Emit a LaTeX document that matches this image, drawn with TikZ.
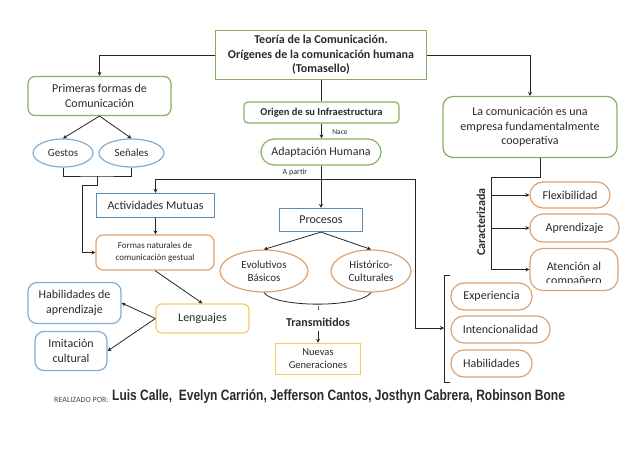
\documentclass[tikz,border=0pt]{standalone}
\usepackage{fontspec}
\setmainfont{Carlito}
\newfontfamily\namefont[FakeStretch=0.8]{Liberation Sans}
\usetikzlibrary{arrows.meta,shapes.geometric}
\definecolor{cgreen}{HTML}{86B062}
\definecolor{cblue}{HTML}{5A8CB8}
\definecolor{clblue}{HTML}{7FAED6}
\definecolor{corange}{HTML}{DDA272}
\definecolor{cyellow}{HTML}{F5CC60}
\definecolor{ctext}{HTML}{2A2A2A}
\tikzset{
  base/.style={draw,line width=1.2pt,align=center,text=ctext,inner sep=0pt,font=\fontsize{12}{14.5}\selectfont},
  gbox/.style={base,draw=cgreen},
  grnd/.style={base,draw=cgreen,rounded corners=7pt},
  bbox/.style={base,draw=cblue},
  blrnd/.style={base,draw=clblue,rounded corners=9pt},
  ornd/.style={base,draw=corange,rounded corners=7pt},
  opill/.style={base,draw=corange,rounded corners=13pt},
  oell/.style={base,draw=corange,ellipse},
  bell/.style={base,draw=clblue,ellipse},
  yelbox/.style={base,draw=cyellow},
  yrnd/.style={base,draw=cyellow,rounded corners=6pt},
  conn/.style={draw=black!85,line width=0.8pt},
  arr/.style={conn,-{Stealth[length=4pt,width=4pt]}},
  lbl/.style={text=ctext,inner sep=0pt,align=center},
}
\begin{document}
\begin{tikzpicture}[x=1pt,y=-1pt]
\useasboundingbox (0,0) rectangle (638,452);
% nodes
\node[gbox,minimum width=211pt,minimum height=49pt,font=\fontsize{12}{14.5}\selectfont\bfseries] (top) at (321,55) {Teoría de la Comunicación.\\Orígenes de la comunicación humana\\(Tomasello)};
\node[grnd,minimum width=143pt,minimum height=39pt] (prim) at (99.5,96) {Primeras formas de\\Comunicación};
\node[bell,minimum width=60pt,minimum height=28pt,font=\fontsize{11}{13}\selectfont] (gestos) at (63,153) {Gestos};
\node[bell,minimum width=65pt,minimum height=28pt,font=\fontsize{11}{13}\selectfont] (senales) at (131.5,153) {Señales};
\node[grnd,rounded corners=4pt,minimum width=155pt,minimum height=21pt,font=\fontsize{10.5}{14.5}\selectfont\bfseries] (orig) at (321.5,112.5) {Origen de su Infraestructura};
\node[grnd,rounded corners=13pt,minimum width=120pt,minimum height=26pt] (adap) at (321,152) {Adaptación Humana};
\node[grnd,rounded corners=10pt,minimum width=174pt,minimum height=61pt] (coop) at (530,127) {La comunicación es una\\empresa fundamentalmente\\cooperativa};
\node[bbox,minimum width=118pt,minimum height=24pt] (activ) at (155.5,205.5) {Actividades Mutuas};
\node[ornd,minimum width=118pt,minimum height=35pt,font=\fontsize{9}{12}\selectfont] (formas) at (155,252.5) {Formas naturales de\\comunicación gestual};
\node[bbox,minimum width=83pt,minimum height=23pt] (proc) at (321,220) {Procesos};
\node[oell,minimum width=88pt,minimum height=42pt,font=\fontsize{11}{13}\selectfont] (evol) at (264,271) {Evolutivos\\Básicos};
\node[oell,minimum width=80pt,minimum height=42pt,font=\fontsize{11}{13}\selectfont] (hist) at (371,271) {Histórico-\\Culturales};
\node[yrnd,minimum width=93pt,minimum height=29pt] (leng) at (202.5,318.5) {Lenguajes};
\node[blrnd,minimum width=93pt,minimum height=41pt] (habap) at (74.5,303) {Habilidades de\\aprendizaje};
\node[blrnd,minimum width=72pt,minimum height=39pt] (imit) at (71,351) {Imitación\\cultural};
\node[yelbox,minimum width=85pt,minimum height=31pt,font=\fontsize{10.5}{13}\selectfont] (nuevas) at (318,359) {Nuevas\\Generaciones};
\node[opill,minimum width=80pt,minimum height=26pt] (flex) at (570,195) {Flexibilidad};
\node[opill,minimum width=89pt,minimum height=28pt] (apren) at (574.5,228) {Aprendizaje};
\node[opill,minimum width=88pt,minimum height=42pt] (aten) at (574,269.5) {};
\begin{scope}
\clip (530,248) rectangle (618,282.6);
\node[lbl,font=\fontsize{12}{14.5}\selectfont] (atentxt) at (574,274.5) {Atención al\\compañero};
\end{scope}
\node[opill,minimum width=81pt,minimum height=27pt] (exper) at (491.5,296.5) {Experiencia};
\node[opill,minimum width=99pt,minimum height=27pt] (inten) at (500.5,329.5) {Intencionalidad};
\node[opill,minimum width=81pt,minimum height=27pt] (habil) at (491.5,363.5) {Habilidades};
% labels
\node[lbl,font=\fontsize{7.5}{9}\selectfont] (nace) at (340,132.5) {Nace};
\node[lbl,font=\fontsize{8}{9}\selectfont] (apartir) at (295,172) {A partir};
\node[lbl,font=\fontsize{12}{14}\selectfont\bfseries] (transm) at (318,322) {Transmitidos};
\node[lbl,rotate=90,font=\fontsize{12}{14}\selectfont\bfseries] (carac) at (481,222) {Caracterizada};
\node[lbl,anchor=west,font=\fontsize{8}{9}\selectfont,text=black!70] (realiz) at (54,399.5) {REALIZADO POR:};
\node[lbl,anchor=west,font=\fontsize{15}{17}\namefont\bfseries,text=ctext] (nombres) at (112,396.5) {Luis Calle,\ \ Evelyn Carrión,\ Jefferson Cantos,\ Josthyn Cabrera,\ Robinson Bone};
% junction coordinates
\coordinate (mj) at (97,176);
\coordinate (mjb) at (97,185);
\coordinate (fl) at (82,185);
\coordinate (hl) at (415.5,179.5);
\coordinate (caracr) at (491,177);
\coordinate (caract) at (540,177);
\coordinate (brk) at (444,328);
\coordinate (tick) at (318,306);
\coordinate (tickb) at (318,310);
\coordinate (transt) at (318,331);
% connectors
\draw[arr] (top.west) -| (prim.north);
\draw[arr] (top.east) -| (coop.north);
\draw[conn] (top.south -| orig.north) -- (orig.north);
\draw[arr] (orig.south) -- (orig.south |- adap.north);
\draw[arr] (adap.south) -- (proc.north);
\draw[arr] (prim.south) -- (gestos.north);
\draw[arr] (prim.south) -- (senales.north);
\draw[conn] (gestos.south) |- (mj) -| (senales.south);
\draw[arr] (mj) -- (mjb) -| (fl) |- (formas.west);
\draw[arr] (activ.south) -- (activ.south |- formas.north);
\draw[arr] (hl) -- (activ.north |- hl) -- (activ.north);
\draw[arr] (hl) |- (brk);
\draw[arr] (formas.south) -- (leng.north);
\draw[arr] (leng.west) -- (habap.east);
\draw[arr] (leng.west) -- (imit.east);
\draw[arr] (proc.south) -- (evol.north);
\draw[arr] (proc.south) -- (hist.north);
\draw[conn] (evol.south) .. controls (275,308) and (360,308) .. (hist.south);
\draw[conn,draw=black!60,line width=0.5pt] (tick) -- (tickb);
\draw[arr] (transt) -- (nuevas.north);
\draw[conn] (coop.south -| caract) -- (caract) -- (caracr);
\draw[arr] (caracr) |- (aten.west);
\draw[arr] (caracr |- flex.west) -- (flex.west);
\draw[arr] (caracr |- apren.west) -- (apren.west);
\draw[conn,line width=1pt] (450,275) -- (444,275) -- (444,382) -- (450,382);
\end{tikzpicture}
\end{document}
